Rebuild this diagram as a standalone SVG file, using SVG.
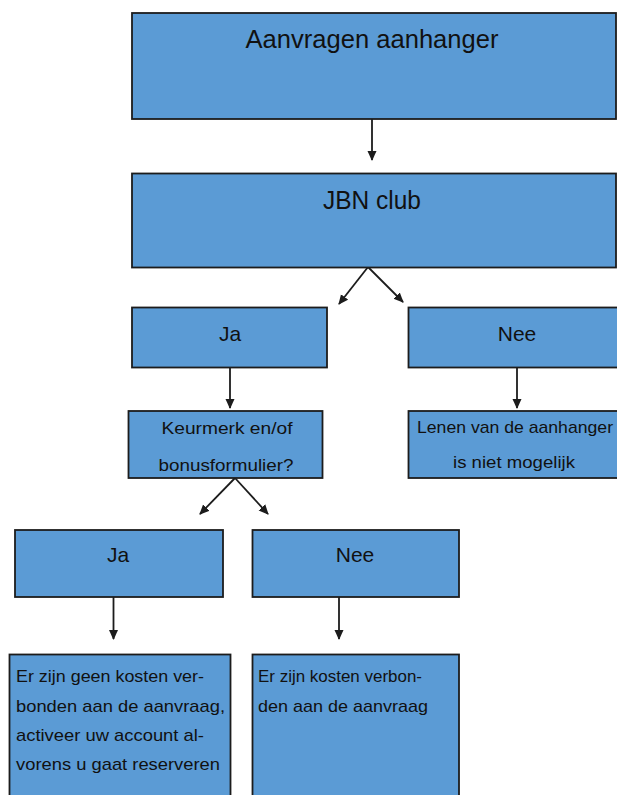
<svg xmlns="http://www.w3.org/2000/svg" width="617" height="795" viewBox="0 0 617 795">
<defs>
<style>
.box{fill:#5B9BD5;stroke:#1c1c1c;stroke-width:1.8}
.t{font-family:"Liberation Sans",Arial,sans-serif;fill:#111}
.big{font-size:25px}
.mid{font-size:21px}
.sm{font-size:17px}
.c{text-anchor:middle}
.con{stroke:#1c1c1c;stroke-width:1.8;fill:none;marker-end:url(#ah)}
</style>
<marker id="ah" markerUnits="userSpaceOnUse" markerWidth="10" markerHeight="10" refX="9" refY="5" orient="auto">
<path d="M0,0.5 L10,5 L0,9.5 z" fill="#1c1c1c"/>
</marker>
</defs>
<rect width="617" height="795" fill="#fff"/>
<g id="connectors">
<line class="con" x1="372" y1="119" x2="372" y2="160"/>
<line class="con" x1="368" y1="267" x2="339" y2="304"/>
<line class="con" x1="368" y1="267" x2="403" y2="302"/>
<line class="con" x1="230" y1="368" x2="230" y2="408"/>
<line class="con" x1="517" y1="368" x2="517" y2="408"/>
<line class="con" x1="235" y1="478" x2="200" y2="514"/>
<line class="con" x1="235" y1="478" x2="268" y2="514"/>
<line class="con" x1="113.5" y1="597" x2="113.5" y2="639"/>
<line class="con" x1="339" y1="597" x2="339" y2="639"/>
</g>
<g id="n-aanvragen">
<rect class="box" x="132" y="13" width="484" height="106"/>
<text class="t big c" x="372" y="48" textLength="253" lengthAdjust="spacingAndGlyphs">Aanvragen aanhanger</text>
</g>
<g id="n-jbn">
<rect class="box" x="132" y="173.5" width="484" height="94"/>
<text class="t big c" x="372" y="209" textLength="98" lengthAdjust="spacingAndGlyphs">JBN club</text>
</g>
<g id="n-ja1">
<rect class="box" x="132" y="307.5" width="195" height="60"/>
<text class="t mid c" x="230" y="341">Ja</text>
</g>
<g id="n-nee1">
<rect class="box" x="408.5" y="307.5" width="220" height="60"/>
<text class="t mid c" x="517" y="341">Nee</text>
</g>
<g id="n-keurmerk">
<rect class="box" x="128.5" y="411" width="194" height="67"/>
<text class="t sm c" x="227" y="434" textLength="131" lengthAdjust="spacingAndGlyphs">Keurmerk en/of</text>
<text class="t sm c" x="226" y="471" textLength="135" lengthAdjust="spacingAndGlyphs">bonusformulier?</text>
</g>
<g id="n-lenen">
<rect class="box" x="408.5" y="411" width="220" height="67"/>
<text class="t sm" x="417" y="433" textLength="196" lengthAdjust="spacingAndGlyphs">Lenen van de aanhanger</text>
<text class="t sm" x="453" y="468" textLength="122" lengthAdjust="spacingAndGlyphs">is niet mogelijk</text>
</g>
<g id="n-ja2">
<rect class="box" x="15" y="530" width="208" height="67"/>
<text class="t mid c" x="118" y="562">Ja</text>
</g>
<g id="n-nee2">
<rect class="box" x="252.5" y="530" width="206.5" height="67"/>
<text class="t mid c" x="355" y="562">Nee</text>
</g>
<g id="n-geenkosten">
<rect class="box" x="9.5" y="654.5" width="221" height="150"/>
<text class="t sm" x="16" y="682" textLength="188" lengthAdjust="spacingAndGlyphs">Er zijn geen kosten ver-</text>
<text class="t sm" x="16" y="712" textLength="209" lengthAdjust="spacingAndGlyphs">bonden aan de aanvraag,</text>
<text class="t sm" x="16" y="741" textLength="188" lengthAdjust="spacingAndGlyphs">activeer uw account al-</text>
<text class="t sm" x="16" y="770" textLength="204" lengthAdjust="spacingAndGlyphs">vorens u gaat reserveren</text>
</g>
<g id="n-kosten">
<rect class="box" x="252.5" y="654.5" width="206.5" height="150"/>
<text class="t sm" x="258" y="682" textLength="164" lengthAdjust="spacingAndGlyphs">Er zijn kosten verbon-</text>
<text class="t sm" x="258" y="712" textLength="170" lengthAdjust="spacingAndGlyphs">den aan de aanvraag</text>
</g>
</svg>
